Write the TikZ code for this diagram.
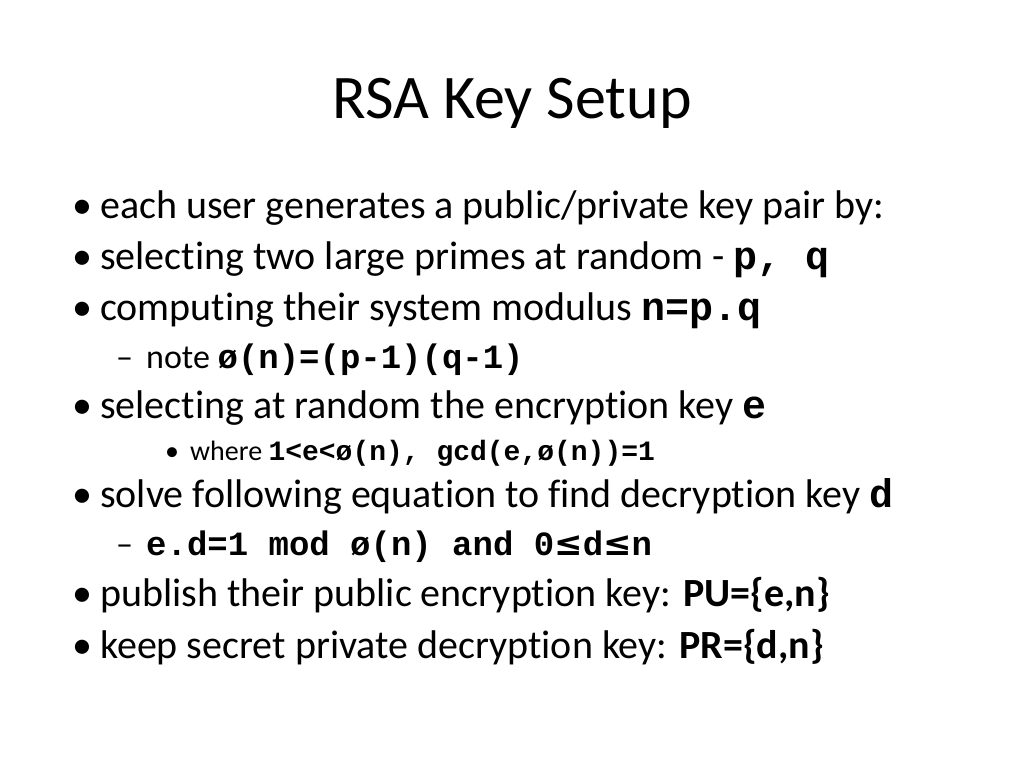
\documentclass[tikz,border=0pt]{standalone}
\usepackage{fontspec}
\setmainfont{Carlito}[Ligatures=NoCommon]
\newfontfamily\cour{Liberation Mono}
\newfontfamily\djsym{DejaVu Sans}
\begin{document}
\begin{tikzpicture}[x=1pt,y=-1pt,
  body/.style={anchor=base west,inner sep=0pt,font=\fontsize{40}{46}\selectfont},
  sub/.style={anchor=base west,inner sep=0pt,font=\fontsize{34}{40}\selectfont},
  subsub/.style={anchor=base west,inner sep=0pt,font=\fontsize{28}{32}\selectfont}]
\useasboundingbox (0,0) rectangle (1024,768);
\node[anchor=base,inner sep=0pt,font=\fontsize{62}{72}\selectfont] (title) at (512,118) {RSA Key Setup};
\node[body] (b1m) at (72,218) {•}; \node[body] (b1) at (100,218) {each user generates a public/private key pair by:};
\node[body] (b2m) at (72,269) {•}; \node[body] (b2) at (100,269) {selecting two large primes at random - \textbf{\cour p, q}};
\node[body] (b3m) at (72,320) {•}; \node[body] (b3) at (100,320) {computing their system modulus \textbf{\cour n=p.q}};
\node[sub] (s1m) at (116,368) {–}; \node[sub] (s1) at (146,368) {note \textbf{\cour ø(n)=(p-1)(q-1)}};
\node[body] (b4m) at (72,418) {•}; \node[body] (b4) at (100,418) {selecting at random the encryption key \textbf{\cour e}};
\node[subsub] (t1m) at (165,460) {•}; \node[subsub] (t1) at (190,460) {where \textbf{\cour 1<e<ø(n), gcd(e,ø(n))=1}};
\node[body] (b5m) at (72,507) {•}; \node[body] (b5) at (100,507) {solve following equation to find decryption key \textbf{\cour d}};
\node[sub] (s2m) at (116,555) {–}; \node[sub] (s2) at (146,555) {\textbf{\cour e.d=1 mod ø(n) and 0{\djsym ≤}d{\djsym ≤}n}};
\node[body] (b6m) at (72,606) {•}; \node[body] (b6) at (100,606) {publish their public encryption key: \textbf{PU=\{e,n\}}};
\node[body] (b7m) at (72,658) {•}; \node[body] (b7) at (100,658) {keep secret private decryption key: \textbf{PR=\{d,n\}}};
\end{tikzpicture}
\end{document}
